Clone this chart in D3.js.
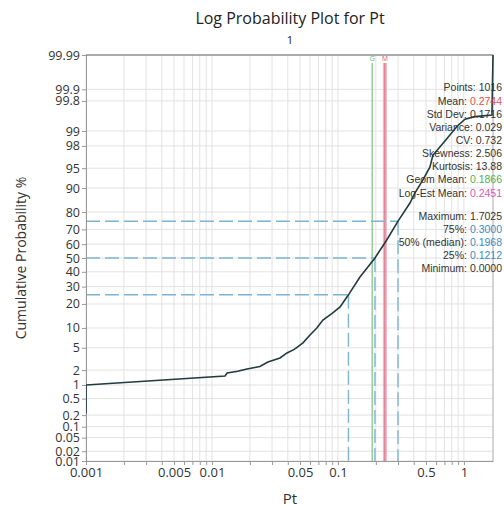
<!DOCTYPE html>
<html><head><meta charset="utf-8">
<script src="https://cdn.jsdelivr.net/npm/d3@7"></script>
<style>
html,body{margin:0;padding:0;background:#fff;overflow:hidden;}
svg{display:block;}
</style>
</head><body>
<svg id="chart" width="504" height="510"></svg>
<script>
// ---- data ----
const curveX = [0.001, 0.001, 0.0127, 0.0132, 0.016, 0.019, 0.024, 0.0278, 0.0347, 0.0394, 0.045, 0.0528, 0.06, 0.068, 0.076, 0.09, 0.104, 0.1212, 0.1496, 0.1968, 0.244, 0.30, 0.373, 0.408, 0.473, 0.537, 0.567, 0.707, 0.88, 1.02, 1.22, 1.67, 1.7025];
const curveP = [0.22, 1.0, 1.53, 1.76, 1.9, 2.1, 2.35, 2.84, 3.36, 4.1, 4.7, 6.0, 7.9, 10.0, 12.8, 15.5, 18.5, 25, 36.4, 50, 62.9, 75, 84.3, 88.3, 92.4, 95.2, 97.0, 98.4, 99.2, 99.45, 99.52, 99.56, 99.99];
const yTicks = [99.99, 99.9, 99.8, 99, 98, 95, 90, 80, 70, 60, 50, 40, 30, 20, 10, 5, 2, 1, 0.5, 0.2, 0.1, 0.05, 0.02, 0.01];
const xTickLabels = [0.001, 0.005, 0.01, 0.05, 0.1, 0.5, 1];
const quantileP = [25, 50, 75];
const quantileX = [0.1212, 0.1968, 0.3000];
const refLabels = ["G", "M"];
const refValues = [0.187, 0.236];
const statLabels = ["Points:", "Mean:", "Std Dev:", "Variance:", "CV:", "Skewness:", "Kurtosis:", "Geom Mean:", "Log-Est Mean:", "Maximum:", "75%:", "50% (median):", "25%:", "Minimum:"];
const statValues = ["1016", "0.2744", "0.1716", "0.029", "0.732", "2.506", "13.88", "0.1866", "0.2451", "1.7025", "0.3000", "0.1968", "0.1212", "0.0000"];
const statColors = ["#333", "#e0504a", "#333", "#333", "#333", "#333", "#333", "#4cb050", "#d05cb8", "#333", "#3a8cc8", "#3a8cc8", "#3a8cc8", "#333"];

// inverse normal CDF (Acklam)
function qnorm(p){
  const a=[-3.969683028665376e+01,2.209460984245205e+02,-2.759285104469687e+02,1.383577518672690e+02,-3.066479806614716e+01,2.506628277459239e+00];
  const b=[-5.447609879822406e+01,1.615858368580409e+02,-1.556989798598866e+02,6.680131188771972e+01,-1.328068155288572e+01];
  const c=[-7.784894002430293e-03,-3.223964580411365e-01,-2.400758277161838e+00,-2.549732539343734e+00,4.374664141464968e+00,2.938163982698783e+00];
  const d=[7.784695709041462e-03,3.224671290700398e-01,2.445134137142996e+00,3.754408661907416e+00];
  const pl=0.02425, ph=1-pl; let q,r;
  if(p<pl){q=Math.sqrt(-2*Math.log(p));return (((((c[0]*q+c[1])*q+c[2])*q+c[3])*q+c[4])*q+c[5])/((((d[0]*q+d[1])*q+d[2])*q+d[3])*q+1);}
  if(p<=ph){q=p-0.5;r=q*q;return (((((a[0]*r+a[1])*r+a[2])*r+a[3])*r+a[4])*r+a[5])*q/(((((b[0]*r+b[1])*r+b[2])*r+b[3])*r+b[4])*r+1);}
  q=Math.sqrt(-2*Math.log(1-p));return -(((((c[0]*q+c[1])*q+c[2])*q+c[3])*q+c[4])*q+c[5])/((((d[0]*q+d[1])*q+d[2])*q+d[3])*q+1);
}

const L=86, R=493, T=55, B=461;
const svg = d3.select("#chart");
const x = d3.scaleLog().domain([0.001, 1.7025]).range([L, R]);
const yq = d3.scaleLinear().domain([qnorm(0.0001), qnorm(0.9999)]).range([B, T]);
const y = p => yq(qnorm(p/100));

svg.append("defs").append("clipPath").attr("id", "plotclip")
  .append("rect").attr("x", L).attr("y", T).attr("width", R-L+1).attr("height", B-T);

// minor x positions
const xMinor = [];
for (let e=-3; e<=0; e++) for (let m=1; m<=9; m++){ const v=m*Math.pow(10,e); if (v<=1.7025) xMinor.push(v); }

// grid
const grid = svg.append("g");
grid.selectAll("line.v").data(xMinor).join("line")
  .attr("x1", d=>x(d)).attr("x2", d=>x(d)).attr("y1", T).attr("y2", B)
  .attr("stroke", "#e2e2e2").attr("stroke-width", 1);
grid.selectAll("line.h").data(yTicks).join("line")
  .attr("x1", L).attr("x2", R).attr("y1", d=>y(d)).attr("y2", d=>y(d))
  .attr("stroke", "#e2e2e2").attr("stroke-width", 1);

// reference lines
const refColors = ["#7cc47c", "#e58aa0"];
const refWidths = [1.2, 4];
svg.selectAll("line.ref").data(refValues).join("line")
  .attr("x1", d=>x(d)).attr("x2", d=>x(d)).attr("y1", 63).attr("y2", B)
  .attr("stroke", (d,i)=>refColors[i]).attr("stroke-width", (d,i)=>refWidths[i]).attr("opacity", (d,i)=>i==1?0.6:1);
svg.append("line").attr("x1", x(refValues[1])).attr("x2", x(refValues[1])).attr("y1", 63).attr("y2", B)
  .attr("stroke", "#e06a82").attr("stroke-width", 1);
svg.selectAll("text.ref").data(refLabels).join("text")
  .attr("x", (d,i)=>x(refValues[i])).attr("y", 61).attr("text-anchor", "middle")
  .attr("font-family", "Liberation Sans, Arial, sans-serif").attr("font-size", 7)
  .attr("fill", (d,i)=>i==0?"#6cbf6c":"#e06a82").text(d=>d);

// quantile dashed lines
const dq = svg.append("g").attr("stroke", "#7db4d4").attr("stroke-width", 1.4).attr("stroke-dasharray", "14,5").attr("fill", "none");
quantileP.forEach((p,i)=>{
  dq.append("line").attr("x1", L).attr("x2", x(quantileX[i])).attr("y1", y(p)).attr("y2", y(p));
  dq.append("line").attr("x1", x(quantileX[i])).attr("x2", x(quantileX[i])).attr("y1", y(p)).attr("y2", B);
});

// axes
const fontTick = "Open Sans, Noto Sans, sans-serif";
const yAxis = d3.axisLeft(yq).tickValues(yTicks.map(p=>qnorm(p/100))).tickFormat((d,i)=>String(yTicks[i])).tickSize(4).tickPadding(2);
const gy = svg.append("g").attr("transform", `translate(${L},0)`).call(yAxis);
gy.select(".domain").attr("stroke", "#999");
gy.selectAll(".tick line").attr("stroke", "#999");
gy.selectAll("text").attr("font-family", fontTick).attr("font-size", 12.5).attr("fill", "#333");

const xAxis = d3.axisBottom(x).tickValues(xMinor).tickFormat(d=>xTickLabels.some(v=>Math.abs(v-d)<1e-9)?String(d):"").tickSize(4).tickPadding(3).tickSizeOuter(0);
const gx = svg.append("g").attr("transform", `translate(0,${B})`).call(xAxis);
gx.select(".domain").attr("stroke", "#999");
gx.selectAll(".tick line").attr("stroke", "#999");
gx.selectAll("text").attr("font-family", fontTick).attr("font-size", 13).attr("fill", "#333");

// frame top and right
svg.append("line").attr("x1", L).attr("x2", R).attr("y1", T).attr("y2", T).attr("stroke", "#666").attr("stroke-width", 1.2);
svg.append("line").attr("x1", R).attr("x2", R).attr("y1", T).attr("y2", B).attr("stroke", "#aaa").attr("stroke-width", 1);

// curve
const line = d3.line().x(d=>x(d[0])).y(d=>y(d[1]));
svg.append("path").datum(curveX.map((v,i)=>[v, curveP[i]]))
  .attr("clip-path", "url(#plotclip)")
  .attr("d", line).attr("fill", "none").attr("stroke", "#213b3e").attr("stroke-width", 1.6);

// stats
const st = svg.append("g").attr("font-family", "Liberation Sans, Arial, sans-serif").attr("font-size", 10.5);
const rowY = [91, 105, 118, 131, 144, 157, 170, 183, 197, 220, 233, 246, 259, 272];
statLabels.forEach((s,i)=>{
  const t = st.append("text").attr("x", 502).attr("y", rowY[i]).attr("text-anchor", "end");
  t.append("tspan").attr("fill", "#333").text(s + " ");
  t.append("tspan").attr("fill", statColors[i]).text(statValues[i]);
});

// titles
svg.append("text").attr("x", 290).attr("y", 24).attr("text-anchor", "middle").attr("font-family", fontTick).attr("font-size", 16).attr("fill", "#222").text("Log Probability Plot for Pt");
svg.append("text").attr("x", 290).attr("y", 44).attr("text-anchor", "middle").attr("font-family", fontTick).attr("font-size", 11).attr("fill", "#222").text("1");
svg.append("text").attr("x", 290).attr("y", 504).attr("text-anchor", "middle").attr("font-family", fontTick).attr("font-size", 15).attr("fill", "#333").text("Pt");
svg.append("text").attr("transform", "translate(26,258) rotate(-90)").attr("text-anchor", "middle").attr("font-family", fontTick).attr("font-size", 14).attr("fill", "#333").text("Cumulative Probability %");
</script>
</body></html>
